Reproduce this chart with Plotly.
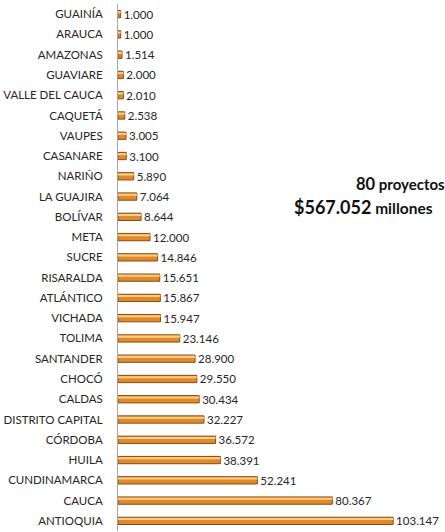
import plotly.graph_objects as go

departamentos = ["GUAINÍA", "ARAUCA", "AMAZONAS", "GUAVIARE", "VALLE DEL CAUCA", "CAQUETÁ",
                 "VAUPES", "CASANARE", "NARIÑO", "LA GUAJIRA", "BOLÍVAR", "META", "SUCRE",
                 "RISARALDA", "ATLÁNTICO", "VICHADA", "TOLIMA", "SANTANDER", "CHOCÓ", "CALDAS",
                 "DISTRITO CAPITAL", "CÓRDOBA", "HUILA", "CUNDINAMARCA", "CAUCA", "ANTIOQUIA"]
valores = [1.000, 1.000, 1.514, 2.000, 2.010, 2.538, 3.005, 3.100, 5.890, 7.064, 8.644, 12.000,
           14.846, 15.651, 15.867, 15.947, 23.146, 28.900, 29.550, 30.434, 32.227, 36.572,
           38.391, 52.241, 80.367, 103.147]
etiquetas = [f"{v:.3f}" for v in valores]

FONT = "Lato, 'Open Sans', sans-serif"

fig = go.Figure()
fig.add_trace(go.Bar(
    x=valores, y=departamentos, orientation="h",
    marker=dict(color="#E08A2A", line=dict(color="#8A4A12", width=1)),
    width=0.36,
    text=etiquetas, textposition="outside", cliponaxis=False, constraintext="none",
    textfont=dict(family=FONT, size=11.5, color="#262626"),
    hoverinfo="skip",
))
# highlight strip for the glossy look
fig.add_trace(go.Bar(
    x=valores, y=departamentos, orientation="h",
    marker=dict(color="#FFCF8A", line=dict(width=0)),
    width=0.1, offset=-0.14,
    hoverinfo="skip",
))

fig.update_layout(
    width=445, height=532,
    margin=dict(l=118, r=0, t=4, b=1),
    barmode="overlay",
    showlegend=False,
    plot_bgcolor="white", paper_bgcolor="white",
    xaxis=dict(range=[0, 122.6], visible=False, fixedrange=True),
    yaxis=dict(range=[25.5, -0.5], showline=True, linecolor="#A6A6A6", linewidth=1,
               ticks="", ticklabelstandoff=12, automargin=False,
               tickfont=dict(family=FONT, size=11.5, color="#262626"), showgrid=False),
    font=dict(family=FONT),
)

fig.add_annotation(
    xref="paper", yref="paper", x=0.722, y=0.6584, xanchor="left", yanchor="middle",
    text="<b><span style='font-size:16.5px'>80</span> proyectos</b>",
    showarrow=False, align="left",
    font=dict(family=FONT, size=15, color="#111111"),
)
fig.add_annotation(
    xref="paper", yref="paper", x=0.532, y=0.6148, xanchor="left", yanchor="middle",
    text="<b><span style='font-size:18px'>$567.052</span> millones</b>",
    showarrow=False, align="left",
    font=dict(family=FONT, size=15.5, color="#111111"),
)

fig.write_html("out.html", config={"displayModeBar": False})
with open("out.html", "r", encoding="utf-8") as f:
    html = f.read()
html = html.replace("<body>", "<body style=\"margin:0;padding:0;overflow:hidden\">", 1)
with open("out.html", "w", encoding="utf-8") as f:
    f.write(html)
